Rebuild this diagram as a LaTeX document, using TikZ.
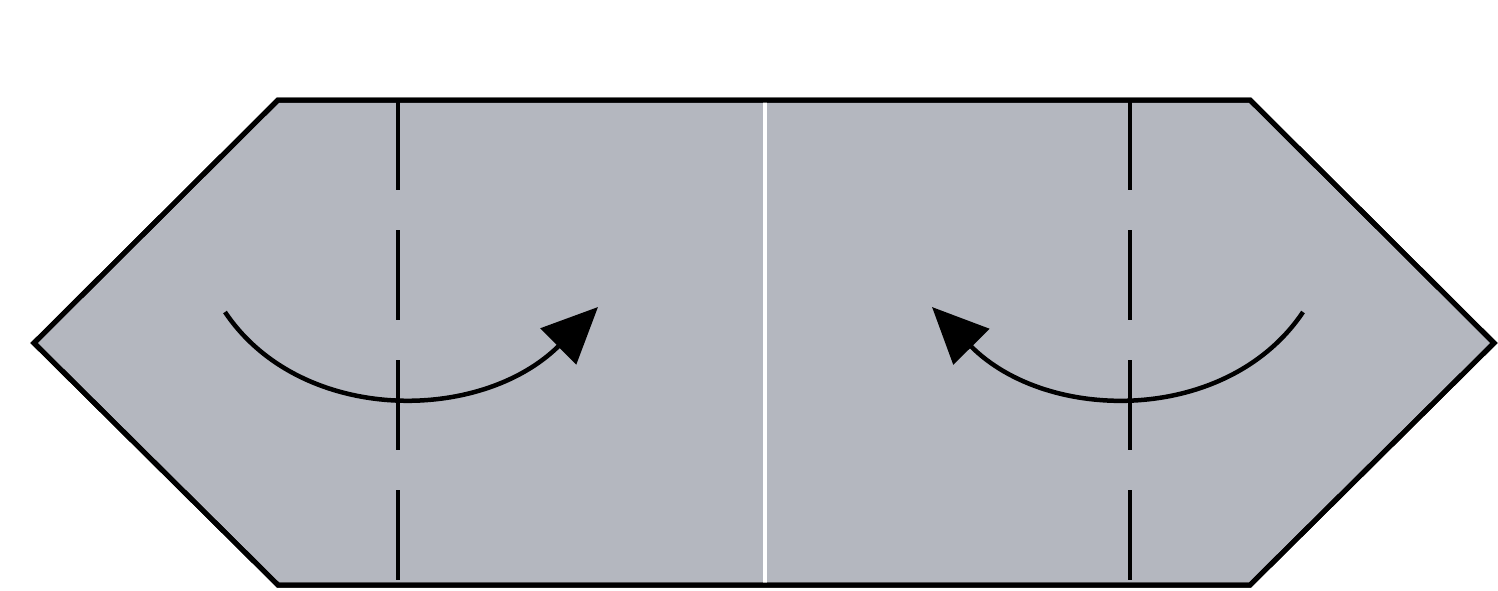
\documentclass[tikz,border=0pt]{standalone}
\usetikzlibrary{arrows.meta}
\definecolor{paper}{RGB}{180,183,191}
\tikzset{
  outline/.style={draw=black, line width=0.05cm, line join=miter, fill=paper},
  foldline/.style={draw=black, line width=0.045cm, dash pattern=on 0.9cm off 0.4cm},
  crease/.style={draw=white, line width=0.045cm},
  foldarrow/.style={draw=black, line width=0.045cm, -{Triangle[length=0.56cm, width=0.5cm]}}
}
\begin{document}
\begin{tikzpicture}[x=0.01cm, y=-0.01cm]
\useasboundingbox (0,0) rectangle (1498,590);
% paper
\coordinate (tl) at (278,100);
\coordinate (tr) at (1250,100);
\coordinate (rp) at (1494,343);
\coordinate (br) at (1250,585);
\coordinate (bl) at (278,585);
\coordinate (lp) at (34,343);
\path[outline] (tl) -- (tr) -- (rp) -- (br) -- (bl) -- (lp) -- cycle;
% centre crease
\coordinate (ct) at (765,102);
\coordinate (cb) at (765,583);
\draw[crease] (ct) -- (cb);
\path[outline, fill=none] (tl) -- (tr) -- (rp) -- (br) -- (bl) -- (lp) -- cycle;
% valley folds
\coordinate (vlt) at (398,100);
\coordinate (vlb) at (398,585);
\coordinate (vrt) at (1130,100);
\coordinate (vrb) at (1130,585);
\draw[foldline] (vlt) -- (vlb);
\draw[foldline] (vrt) -- (vrb);
% arrows
\coordinate (als) at (225,312);
\coordinate (ale) at (598,307);
\coordinate (ars) at (1303,312);
\coordinate (are) at (932,307);
\draw[foldarrow] (als) .. controls (300,424) and (480,424) .. (ale);
\draw[foldarrow] (ars) .. controls (1228,424) and (1048,424) .. (are);
\end{tikzpicture}
\end{document}
